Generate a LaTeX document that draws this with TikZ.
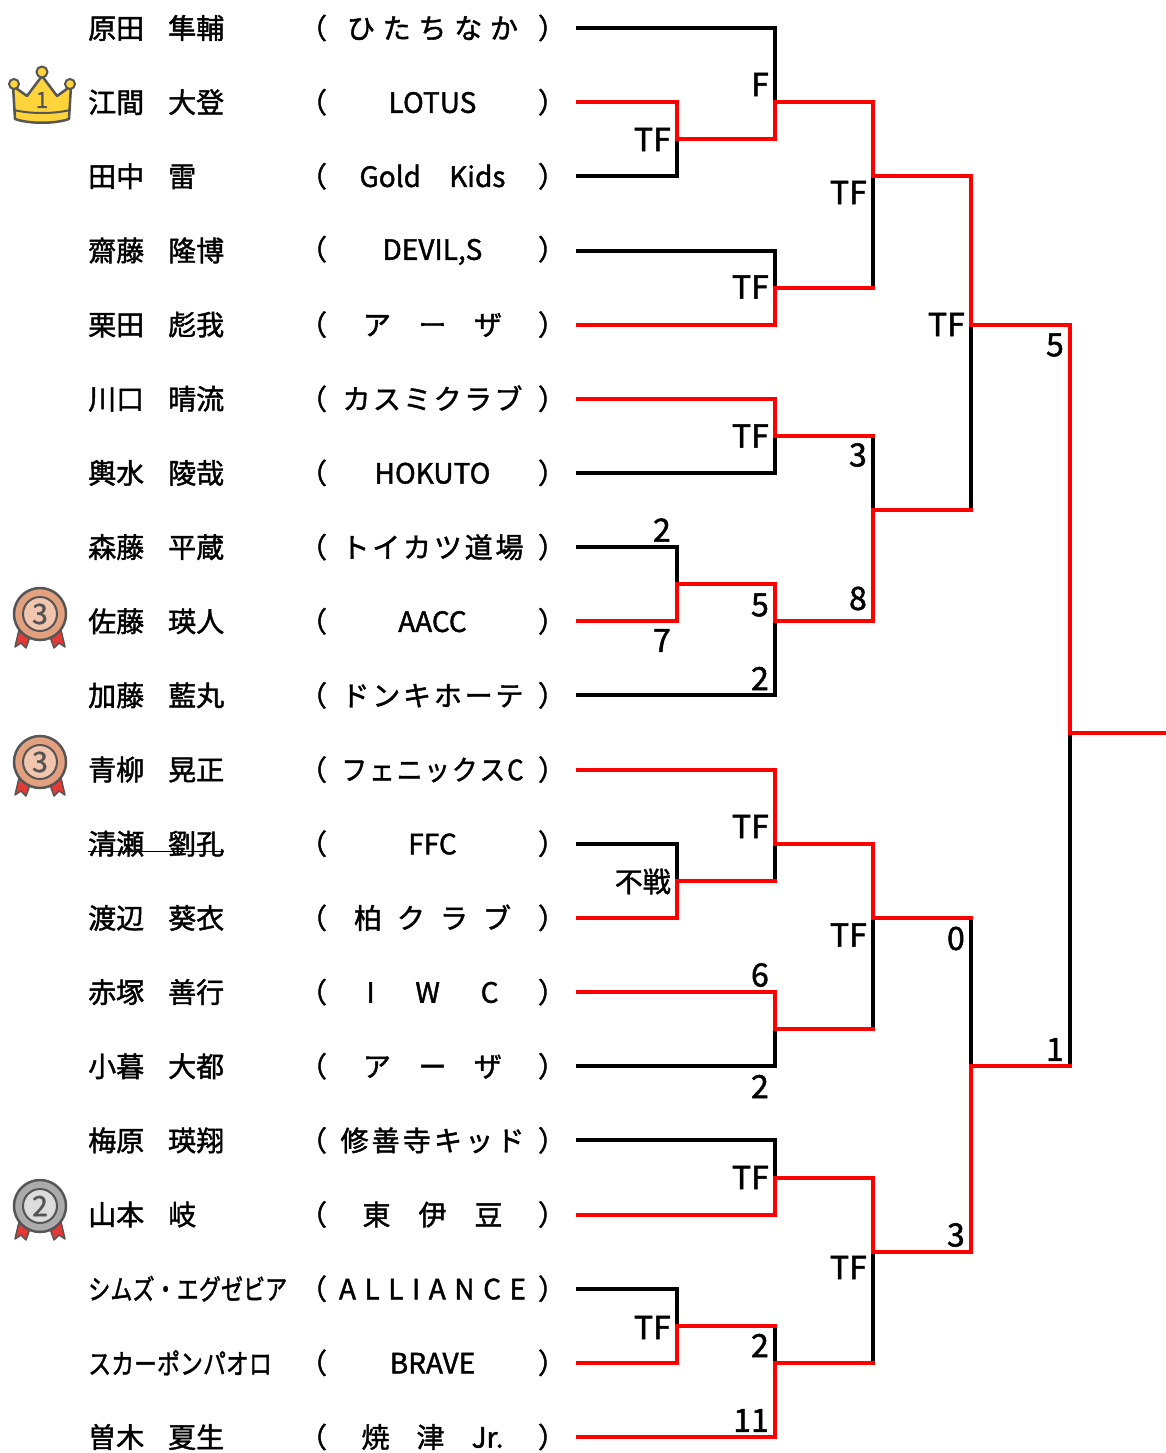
\documentclass[tikz,border=0pt]{standalone}
\usepackage{fontspec}
\setmainfont{Noto Sans CJK JP}[FakeBold=1.5]
\usepackage{graphicx}

\definecolor{outline}{HTML}{555555}
\definecolor{crown}{HTML}{FFD43B}
\definecolor{bronze}{HTML}{E2A07E}
\definecolor{bronzelight}{HTML}{F2C6AE}
\definecolor{silver}{HTML}{ABABAB}
\definecolor{silverlight}{HTML}{DCDCDC}
\definecolor{ribbon}{HTML}{E53935}

\newcommand{\fullname}[2]{\makebox[80pt][l]{#1}#2}
\newcommand{\club}[1]{（\makebox[211pt]{#1}）}
\newcommand{\spread}[2]{\makebox[#1][s]{#2}}
\newcommand{\drawmedal}[6]{%
  \begin{scope}[shift={(#1,#2)}]
    \filldraw[fill=ribbon,draw=outline,line width=1.5pt,line join=round]
      (-9,20) -- (-21,16) -- (-25,33) -- (-19,29) -- (-14,34) -- cycle;
    \filldraw[fill=ribbon,draw=outline,line width=1.5pt,line join=round]
      (9,20) -- (21,16) -- (25,33) -- (19,29) -- (14,34) -- cycle;
    \filldraw[fill=#3,draw=outline,line width=2.5pt] (0,0) circle (26);
    \filldraw[fill=#4,draw=outline,line width=2pt] (0,0) circle (17);
    \node[text=outline,inner sep=0pt,font=\fontsize{28}{30}\selectfont] (#6) at (0,0) {#5};
  \end{scope}}

\tikzset{
  won/.style={draw=red,line width=4pt,line cap=rect},
  lost/.style={draw=black,line width=4pt,line cap=rect}
}

\begin{document}
\begin{tikzpicture}[x=1pt,y=-1pt]
  \useasboundingbox (0,0) rectangle (1166,1453);
  % crown and medals
  \filldraw[fill=crown,draw=outline,line width=2.5pt,line join=round]
    (13,86) -- (27,96) -- (42,76) -- (57,96) -- (71,86) -- (69,119)
    .. controls (55,124) and (29,124) .. (15,119) -- cycle;
  \draw[outline,line width=2pt] (14,110) .. controls (30,114) and (54,114) .. (70,110);
  \filldraw[fill=crown,draw=outline,line width=2pt]
    (14,84) circle (5) (42,72) circle (5.5) (70,84) circle (5);
  \node[text=outline,inner sep=0pt,font=\fontsize{22}{24}\selectfont] (K) at (42,100) {1};
  \drawmedal{40}{614}{bronze}{bronzelight}{3}{M1}
  \drawmedal{40}{762}{bronze}{bronzelight}{3}{M2}
  \drawmedal{40}{1206}{silver}{silverlight}{2}{M3}
  % players
  \begin{scope}[every node/.style={anchor=west,inner sep=0pt,font=\fontsize{28}{30}\selectfont}]
    \node (P1)  at (88,28.0)   {\fullname{原田}{隼輔}};
    \node (P2)  at (88,102.2)  {\fullname{江間}{大登}};
    \node (P3)  at (88,176.3)  {\fullname{田中}{雷}};
    \node (P4)  at (88,250.5)  {\fullname{齋藤}{隆博}};
    \node (P5)  at (88,324.6)  {\fullname{栗田}{彪我}};
    \node (P6)  at (88,398.8)  {\fullname{川口}{晴流}};
    \node (P7)  at (88,472.9)  {\fullname{輿水}{陵哉}};
    \node (P8)  at (88,547.1)  {\fullname{森藤}{平蔵}};
    \node (P9)  at (88,621.3)  {\fullname{佐藤}{瑛人}};
    \node (P10) at (88,695.4)  {\fullname{加藤}{藍丸}};
    \node (P11) at (88,769.6)  {\fullname{青柳}{晃正}};
    \node (P12) at (88,843.7)  {\fullname{清瀬}{劉孔}};
    \node (P13) at (88,917.9)  {\fullname{渡辺}{葵衣}};
    \node (P14) at (88,992.1)  {\fullname{赤塚}{善行}};
    \node (P15) at (88,1066.2) {\fullname{小暮}{大都}};
    \node (P16) at (88,1140.4) {\fullname{梅原}{瑛翔}};
    \node (P17) at (88,1214.5) {\fullname{山本}{岐}};
    \node (P18) at (88,1288.7) {\scalebox{0.79}[1]{シムズ・エグゼビア}};
    \node (P19) at (88,1362.8) {\scalebox{0.82}[1]{スカーポンパオロ}};
    \node (P20) at (88,1437.0) {\fullname{曽木}{夏生}};
  \end{scope}
  \draw[line width=1.5pt] ([yshift=-8pt]P12.west) -- ([yshift=-8pt]P12.east);
  % clubs
  \begin{scope}[every node/.style={inner sep=0pt,font=\fontsize{28}{30}\selectfont}]
    \node (T1)  at (432.5,28.0)   {\club{\spread{171pt}{ひ\hfill た\hfill ち\hfill な\hfill か}}};
    \node (T2)  at (432.5,102.2)  {\club{LOTUS}};
    \node (T3)  at (432.5,176.3)  {\club{\spread{146pt}{Gold\hfill Kids}}};
    \node (T4)  at (432.5,250.5)  {\club{DEVIL,S}};
    \node (T5)  at (432.5,324.6)  {\club{\spread{139pt}{ア\hfill ー\hfill ザ}}};
    \node (T6)  at (432.5,398.8)  {\club{\spread{180pt}{カ\hfill ス\hfill ミ\hfill ク\hfill ラ\hfill ブ}}};
    \node (T7)  at (432.5,472.9)  {\club{HOKUTO}};
    \node (T8)  at (432.5,547.1)  {\club{\spread{182pt}{ト\hfill イ\hfill カ\hfill ツ\hfill 道\hfill 場}}};
    \node (T9)  at (432.5,621.3)  {\club{AACC}};
    \node (T10) at (432.5,695.4)  {\club{\spread{182pt}{ド\hfill ン\hfill キ\hfill ホ\hfill ー\hfill テ}}};
    \node (T11) at (432.5,769.6)  {\club{\scalebox{0.92}[1]{\spread{198pt}{フ\hfill ェ\hfill ニ\hfill ッ\hfill ク\hfill ス\hfill C}}}};
    \node (T12) at (432.5,843.7)  {\club{FFC}};
    \node (T13) at (432.5,917.9)  {\club{\spread{157pt}{柏\hfill ク\hfill ラ\hfill ブ}}};
    \node (T14) at (432.5,992.1)  {\club{\spread{132pt}{I\hfill W\hfill C}}};
    \node (T15) at (432.5,1066.2) {\club{\spread{139pt}{ア\hfill ー\hfill ザ}}};
    \node (T16) at (432.5,1140.4) {\club{\spread{184pt}{修\hfill 善\hfill 寺\hfill キ\hfill ッ\hfill ド}}};
    \node (T17) at (432.5,1214.5) {\club{\spread{140pt}{東\hfill 伊\hfill 豆}}};
    \node (T18) at (432.5,1288.7) {\club{\spread{187pt}{A\hfill L\hfill L\hfill I\hfill A\hfill N\hfill C\hfill E}}};
    \node (T19) at (432.5,1362.8) {\club{BRAVE}};
    \node (T20) at (432.5,1437.0) {\club{\spread{142pt}{焼\hfill 津\hfill Jr.}}};
  \end{scope}
  % bracket
  \coordinate (R1)  at (578,28.0);   \coordinate (R2)  at (578,102.2);
  \coordinate (R3)  at (578,176.3);  \coordinate (R4)  at (578,250.5);
  \coordinate (R5)  at (578,324.6);  \coordinate (R6)  at (578,398.8);
  \coordinate (R7)  at (578,472.9);  \coordinate (R8)  at (578,547.1);
  \coordinate (R9)  at (578,621.3);  \coordinate (R10) at (578,695.4);
  \coordinate (R11) at (578,769.6);  \coordinate (R12) at (578,843.7);
  \coordinate (R13) at (578,917.9);  \coordinate (R14) at (578,992.1);
  \coordinate (R15) at (578,1066.2); \coordinate (R16) at (578,1140.4);
  \coordinate (R17) at (578,1214.5); \coordinate (R18) at (578,1288.7);
  \coordinate (R19) at (578,1362.8); \coordinate (R20) at (578,1437.0);
  \draw[lost] (R1)  -| (775,102.2);
  \draw[lost] (R3)  -| (677,139.2);
  \draw[lost] (R4)  -| (775,287.6);
  \draw[lost] (R7)  -| (775,435.9);
  \draw[lost] (R8)  -| (677,584.2);
  \draw[lost] (R10) -| (775,621.3);
  \draw[lost] (R12) -| (677,880.8);
  \draw[lost] (R15) -| (775,1029.1);
  \draw[lost] (R16) -| (775,1177.5);
  \draw[lost] (R18) -| (677,1325.8);
  \draw[lost] (775,843.7)  -- (775,880.8);
  \draw[lost] (775,1325.8) -- (775,1362.8);
  \draw[lost] (873,176.3)  -- (873,287.6);
  \draw[lost] (873,435.9)  -- (873,510.0);
  \draw[lost] (873,917.9)  -- (873,1029.1);
  \draw[lost] (873,1251.6) -- (873,1362.8);
  \draw[lost] (971,324.6)  -- (971,510.0);
  \draw[lost] (971,917.9)  -- (971,1066.2);
  \draw[lost] (1070,732.5) -- (1070,1066.2);
  \draw[won] (R2) -| (677,139.2) -| (775,102.2) -| (873,176.3) -| (971,324.6)
             -| (1070,732.5) -- (1166,732.5);
  \draw[won] (R5)  -| (775,287.6) -- (873,287.6);
  \draw[won] (R6)  -| (775,435.9) -- (873,435.9);
  \draw[won] (R9)  -| (677,584.2) -| (775,621.3) -| (873,510.0) -- (971,510.0);
  \draw[won] (R11) -| (775,843.7) -| (873,917.9) -- (971,917.9);
  \draw[won] (R13) -| (677,880.8) -- (775,880.8);
  \draw[won] (R14) -| (775,1029.1) -- (873,1029.1);
  \draw[won] (R17) -| (775,1177.5) -| (873,1251.6) -| (971,1066.2) -- (1070,1066.2);
  \draw[won] (R19) -| (677,1325.8) -- (775,1325.8);
  \draw[won] (R20) -| (775,1362.8) -- (873,1362.8);
  % results
  \begin{scope}[every node/.style={anchor=east,inner sep=0pt,font=\fontsize{32}{34}\selectfont}]
    \node (S1)  at (769,84.5)    {F};
    \node (S2)  at (671,139.5)   {TF};
    \node (S3)  at (867,192.5)   {TF};
    \node (S4)  at (769,287.0)   {TF};
    \node (S5)  at (965,324.5)   {TF};
    \node (S6)  at (1064,345.0)  {5};
    \node (S7)  at (769,436.0)   {TF};
    \node (S8)  at (867,455.0)   {3};
    \node (S9)  at (671,530.0)   {2};
    \node (S10) at (769,605.0)   {5};
    \node (S11) at (867,598.5)   {8};
    \node (S12) at (671,640.5)   {7};
    \node (S13) at (769,678.5)   {2};
    \node (S14) at (769,826.5)   {TF};
    \node[font=\fontsize{28}{30}\selectfont] (S15) at (671,881.5) {不戦};
    \node (S16) at (867,935.0)   {TF};
    \node (S17) at (965,938.5)   {0};
    \node (S18) at (769,975.0)   {6};
    \node (S19) at (769,1086.5)  {2};
    \node (S20) at (1064,1049.5) {1};
    \node (S21) at (965,1235.0)  {3};
    \node (S22) at (769,1177.5)  {TF};
    \node (S23) at (867,1267.5)  {TF};
    \node (S24) at (671,1327.5)  {TF};
    \node (S25) at (769,1345.5)  {2};
    \node (S26) at (769,1420.5)  {11};
  \end{scope}
\end{tikzpicture}
\end{document}
